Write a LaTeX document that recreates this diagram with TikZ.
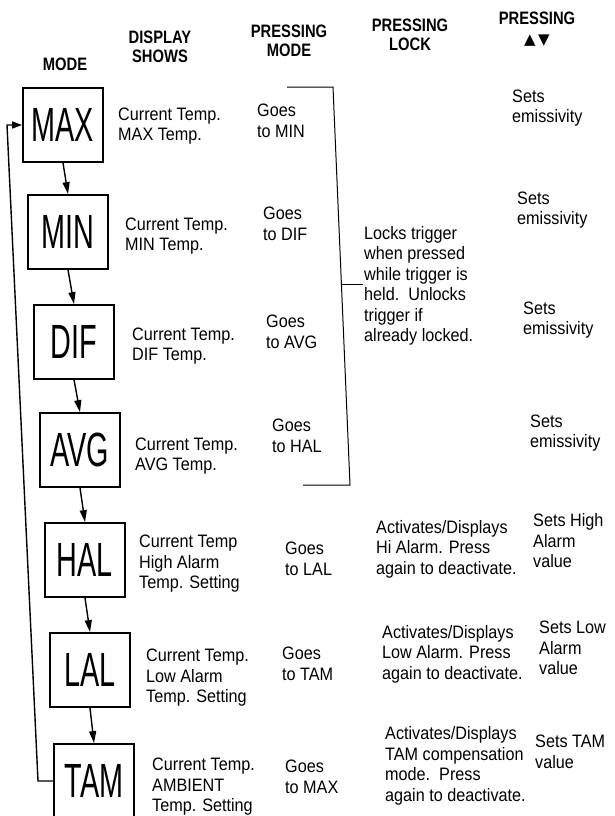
\documentclass[tikz,border=0pt]{standalone}
\usepackage{fontspec}
\setmainfont{Liberation Sans}[FakeStretch=0.9]
\newfontfamily\headfont{Liberation Sans}[FakeStretch=0.82]
\newfontfamily\modefont{Liberation Sans}[FakeStretch=0.6]
\newfontfamily\symfont{DejaVu Sans}
\usetikzlibrary{arrows.meta}

\begin{document}
\begin{tikzpicture}[x=1pt,y=-1pt,
  modebox/.style={draw, line width=1.8pt, minimum width=80pt, minimum height=74pt, inner sep=0pt,
    font=\modefont\fontsize{48}{48}\selectfont},
  info/.style={anchor=west, align=left, inner sep=0pt, font=\fontsize{18}{20.5}\selectfont},
  head/.style={align=center, inner sep=0pt, font=\headfont\bfseries\fontsize{18}{19.5}\selectfont},
  flow/.style={line width=1.4pt, -{Triangle[length=12pt,width=7pt]}},
  bracket/.style={line width=1pt}]
\useasboundingbox (0,0) rectangle (615,816);
\node[head] (hmode) at (65,64) {MODE};
\node[head] (hshow) at (160,47) {DISPLAY\\SHOWS};
\node[head] (hpmode) at (289,41) {PRESSING\\MODE};
\node[head] (hlock) at (410,35) {PRESSING\\LOCK};
\node[head] (hkeys) at (537,29) {PRESSING\\{\symfont\fontsize{15}{15}\selectfont ▲\,▼}};
\node[modebox] (max) at (63,125) {MAX};
\node[modebox] (min) at (68,232) {MIN};
\node[modebox] (dif) at (74,342) {DIF};
\node[modebox] (avg) at (80,450) {AVG};
\node[modebox] (hal) at (85,560) {HAL};
\node[modebox] (lal) at (90,670) {LAL};
\node[modebox] (tam) at (94,781) {TAM};
\draw[flow] (max.south) -- (min.north);
\draw[flow] (min.south) -- (dif.north);
\draw[flow] (dif.south) -- (avg.north);
\draw[flow] (avg.south) -- (hal.north);
\draw[flow] (hal.south) -- (lal.north);
\draw[flow] (lal.south) -- (tam.north);
\coordinate (backlow) at (38,781);
\coordinate (backtop) at (7,125);
\draw[flow, -{Triangle[length=10pt,width=7pt]}] (tam.west) -- (backlow) -- (backtop) -- (max.west);
\node[info] (smax) at (118,126) {Current Temp.\\MAX Temp.};
\node[info] (smin) at (125,236) {Current Temp.\\MIN Temp.};
\node[info] (sdif) at (132,346) {Current Temp.\\DIF Temp.};
\node[info] (savg) at (135,456) {Current Temp.\\AVG Temp.};
\node[info] (shal) at (139,564) {Current Temp\\High Alarm\\Temp. Setting};
\node[info] (slal) at (146,678) {Current Temp.\\Low Alarm\\Temp. Setting};
\node[info] (stam) at (152,787) {Current Temp.\\AMBIENT\\Temp. Setting};
\node[info] (gmax) at (257,121) {Goes\\to MIN};
\node[info] (gmin) at (263,224) {Goes\\to DIF};
\node[info] (gdif) at (266,332) {Goes\\to AVG};
\node[info] (gavg) at (272,436) {Goes\\to HAL};
\node[info] (ghal) at (285,559) {Goes\\to LAL};
\node[info] (glal) at (282,664) {Goes\\to TAM};
\node[info] (gtam) at (285,777) {Goes\\to MAX};
\coordinate (brtl) at (287,87);
\coordinate (brtr) at (333,87);
\coordinate (brbr) at (350,485);
\coordinate (brbl) at (303,485);
\coordinate (brmid) at (342,284);
\coordinate (brtick) at (363,284);
\draw[bracket] (brtl) -- (brtr) -- (brbr) -- (brbl);
\draw[bracket] (brmid) -- (brtick);
\node[info] (lock) at (364,286) {Locks trigger\\when pressed\\while trigger is\\held.\ \ Unlocks\\trigger if\\already locked.};
\node[info] (lhal) at (376,549) {Activates/Displays\\Hi Alarm. Press\\again to deactivate.};
\node[info] (llal) at (382,654) {Activates/Displays\\Low Alarm. Press\\again to deactivate.};
\node[info] (ltam) at (385,766) {Activates/Displays\\TAM compensation\\mode.\ \ Press\\again to deactivate.};
\node[info] (emax) at (512,108) {Sets\\emissivity};
\node[info] (emin) at (517,210) {Sets\\emissivity};
\node[info] (edif) at (523,320) {Sets\\emissivity};
\node[info] (eavg) at (530,433) {Sets\\emissivity};
\node[info] (ehal) at (533,541) {Sets High\\Alarm\\value};
\node[info] (elal) at (539,648) {Sets Low\\Alarm\\value};
\node[info] (etam) at (535,752) {Sets TAM\\value};
\end{tikzpicture}
\end{document}
